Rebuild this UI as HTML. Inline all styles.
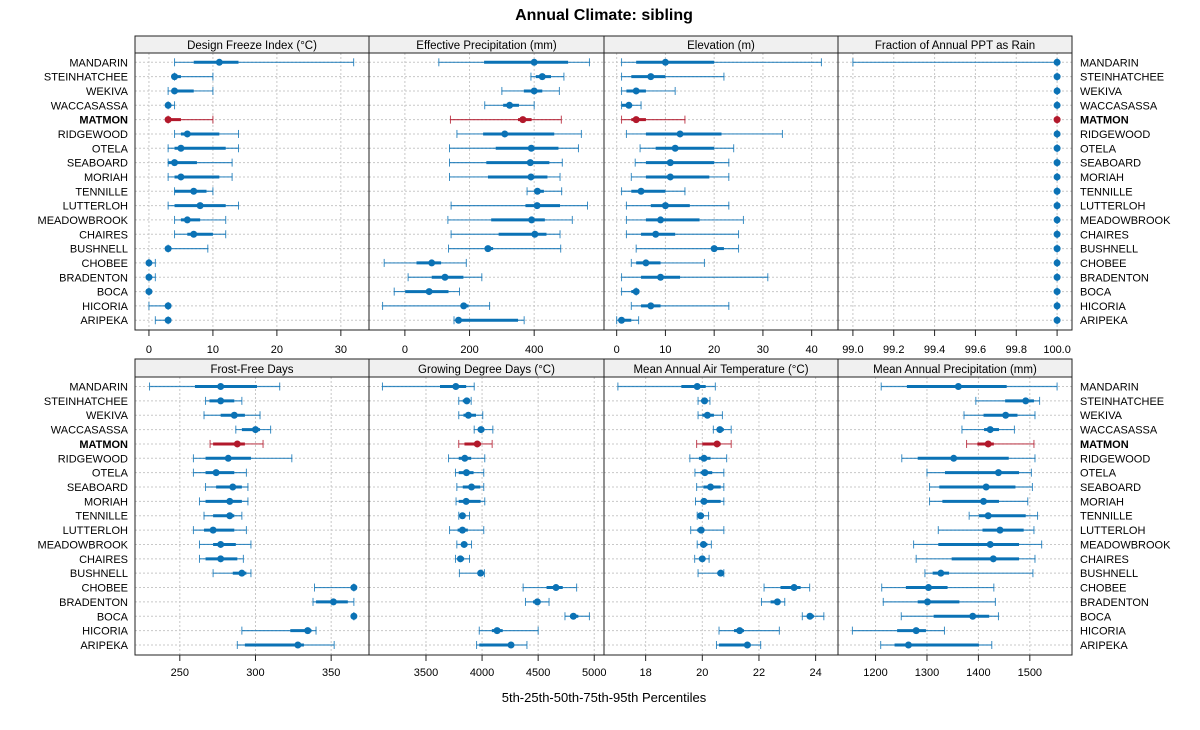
<!DOCTYPE html>
<html><head><meta charset="utf-8">
<style>
body{margin:0;background:#fff;font-family:"Liberation Sans",sans-serif;}
svg text{font-family:"Liberation Sans",sans-serif;}
</style></head>
<body>
<svg id="chart" width="1200" height="725" viewBox="0 0 1200 725" xmlns="http://www.w3.org/2000/svg">
<text x="604" y="20" text-anchor="middle" font-size="16" font-weight="bold">Annual Climate: sibling</text>
<text x="604" y="702" text-anchor="middle" font-size="13">5th-25th-50th-75th-95th Percentiles</text>
</svg>
<script>
const sites = ["MANDARIN","STEINHATCHEE","WEKIVA","WACCASASSA","MATMON","RIDGEWOOD","OTELA","SEABOARD","MORIAH","TENNILLE","LUTTERLOH","MEADOWBROOK","CHAIRES","BUSHNELL","CHOBEE","BRADENTON","BOCA","HICORIA","ARIPEKA"];
const panelTitles = ["Design Freeze Index (°C)","Effective Precipitation (mm)","Elevation (m)","Fraction of Annual PPT as Rain","Frost-Free Days","Growing Degree Days (°C)","Mean Annual Air Temperature (°C)","Mean Annual Precipitation (mm)"];
const ticks = [[0,10,20,30],[0,200,400],[0,10,20,30,40],[99.0,99.2,99.4,99.6,99.8,100.0],[250,300,350],[3500,4000,4500,5000],[18,20,22,24],[1200,1300,1400,1500]];
const tickLabels = [["0","10","20","30"],["0","200","400"],["0","10","20","30","40"],["99.0","99.2","99.4","99.6","99.8","100.0"],["250","300","350"],["3500","4000","4500","5000"],["18","20","22","24"],["1200","1300","1400","1500"]];
const domains = [[-2.18,34.4],[-111,616],[-2.6,45.4],[98.927,100.073],[220.4,375],[2992,5087],[16.53,24.79],[1127,1582]];
// each row: [p5,p25,p50,p75,p95]
const dfi = [[4,7,11,14,32],[4,4,4,5,10],[3,4,4,7,10],[3,3,3,3,4],[3,3,3,5,10],[4,5,6,11,14],[3,4,5,12,14],[3,3,4,7.5,13],[3,4,5,11,13],[4,4,7,9,10],[3,4,8,12,14],[4,5,6,8,12],[4,6,7,10,12],[3,3,3,3,9.2],[0,0,0,0,1],[0,0,0,0,1],[0,0,0,0,0],[0,3,3,3,3],[1,3,3,3,3]];
const effPpt = [[105,245,400,505,571],[390,405,425,452,492],[300,368,400,425,478],[247,304,324,353,400],[141,350,365,392,484],[161,242,309,462,546],[138,281,391,475,537],[138,252,388,447,487],[138,257,390,441,480],[378,402,410,430,485],[143,373,409,480,565],[133,267,392,433,518],[143,290,402,438,480],[135,247,257,273,482],[-64,36,83,112,190],[10,83,124,181,238],[-33,1,75,135,169],[-69,174,182,197,262],[152,160,166,350,369]];
const elev = [[1,4,10,20,42],[1,3,7,10,22],[1,2,4,6,12],[1,1,2.5,3,5],[1,3,4,6,14],[2,6,13,21.5,34],[4.8,8,12,20,24],[3.8,6,11,20,23],[3,6,11,19,23],[1,3,5,10,14],[2,7,10,15,23],[2,6,9,17,26],[2,5,8,12,25],[4,19.5,20,22,25],[3,4,6,9,18],[1,5,9,13,31],[1,3,4,4,4],[3,5,7,9,23],[0,0.5,1,3,4.5]];
const rainFrac = [[99.0,100,100,100,100],[100,100,100,100,100],[100,100,100,100,100],[100,100,100,100,100],[100,100,100,100,100],[100,100,100,100,100],[100,100,100,100,100],[100,100,100,100,100],[100,100,100,100,100],[100,100,100,100,100],[100,100,100,100,100],[100,100,100,100,100],[100,100,100,100,100],[100,100,100,100,100],[100,100,100,100,100],[100,100,100,100,100],[100,100,100,100,100],[100,100,100,100,100],[100,100,100,100,100]];
const ffd = [[230,260,277,301,316],[267,269.6,277,286,291],[266,277,286,293,303],[287,291,300,303,310],[270,272,288,293,305],[259,267,282,297,324],[259,267,274,286,294],[267,274,285,291,295],[263,267,283,291,295],[266,272,283,286,291],[259,266,272,286,294],[263,272,277,287,297],[263,267,277,288,292],[272,285,291,294,297],[339,365,365,365,365],[338,340,351.5,361,365],[365,365,365,365,365],[291,323,334.5,337,340],[288,293,328,332,352]];
const gdd = [[3112,3625,3766,3858,3930],[3792,3828,3864,3882,3903],[3792,3834,3878,3946,4006],[3930,3963,3991,4021,4096],[3792,3843,3957,3991,4090],[3701,3792,3846,3903,4024],[3763,3792,3861,3924,4015],[3775,3828,3906,3984,4015],[3768,3792,3858,3987,4024],[3792,3804,3825,3852,3888],[3710,3782,3825,3873,4015],[3775,3815,3840,3870,3906],[3763,3782,3807,3840,3888],[3798,3963,3987,4006,4021],[4366,4575,4659,4719,4843],[4387,4454,4493,4520,4597],[4739,4784,4814,4858,4957],[3975,4087,4134,4184,4500],[3951,3975,4258,4258,4400]];
const maat = [[17.02,19.26,19.82,20.12,20.46],[19.85,19.96,20.08,20.18,20.27],[19.85,20.0,20.18,20.41,20.71],[20.39,20.53,20.62,20.76,21.02],[19.8,20.0,20.52,20.65,21.02],[19.56,19.88,20.06,20.29,20.86],[19.74,19.94,20.09,20.35,20.76],[19.8,20.04,20.29,20.65,20.76],[19.76,19.94,20.06,20.65,20.76],[19.82,19.86,19.94,20.06,20.22],[19.59,19.82,19.96,20.06,20.76],[19.82,19.94,20.04,20.18,20.32],[19.73,19.88,20.0,20.08,20.24],[19.85,20.53,20.65,20.71,20.76],[22.18,22.76,23.24,23.47,23.79],[22.09,22.41,22.65,22.74,22.91],[23.53,23.71,23.8,23.94,24.29],[20.59,21.12,21.32,21.47,22.72],[20.5,20.59,21.59,21.71,22.06]];
const map = [[1211,1261,1361,1455,1553],[1395,1452,1492,1508,1519],[1372,1410,1453,1476,1510],[1368,1411,1423,1440,1470],[1377,1398,1419,1430,1508],[1251,1282,1352,1459,1510],[1300,1335,1439,1479,1503],[1305,1324,1415,1472,1505],[1305,1330,1410,1440,1496],[1382,1401,1419,1492,1515],[1322,1408,1442,1488,1508],[1274,1322,1423,1479,1523],[1279,1348,1429,1479,1510],[1296,1311,1327,1343,1506],[1212,1259,1303,1340,1430],[1215,1282,1301,1363,1433],[1250,1313,1389,1421,1439],[1155,1242,1279,1298,1334],[1210,1237,1264,1401,1426]];
const series = [dfi,effPpt,elev,rainFrac,ffd,gdd,maat,map];

const NS="http://www.w3.org/2000/svg";
const svg=document.getElementById('chart');
function mk(tag,attrs,parent){const e=document.createElementNS(NS,tag);for(const k in attrs)e.setAttribute(k,attrs[k]);(parent||svg).appendChild(e);return e;}
const colX=[135,369,604,838,1072];
const rows=[{stripTop:36,plotTop:53,plotBot:330,y0:62.3,dy:14.33,lab:353},{stripTop:359,plotTop:377,plotBot:655,y0:386.5,dy:14.36,lab:676}];
const BLUE="#0b72b5",RED="#b2182b";
for(let p=0;p<8;p++){
  const r=rows[Math.floor(p/4)],c=p%4,x0=colX[c],x1=colX[c+1];
  const dom=domains[p];
  const sx=v=>x0+(v-dom[0])/(dom[1]-dom[0])*(x1-x0);
  const sy=i=>r.y0+i*r.dy;
  const g=mk('g',{});
  
  
  const strip=mk('rect',{x:x0,y:r.stripTop,width:x1-x0,height:r.plotTop-r.stripTop,fill:'#f0f0f0',stroke:'#222','stroke-width':1},g);
  
  
  const st=mk('text',{x:(x0+x1)/2,y:r.plotTop-4,'text-anchor':'middle','font-size':11.5},g);
  st.textContent=panelTitles[p];
  
  
  ticks[p].forEach((t,k)=>{
    const x=sx(t);
    const gl=mk('line',{x1:x,x2:x,y1:r.plotTop,y2:r.plotBot,stroke:'#c8c8c8','stroke-dasharray':'2,2','stroke-width':1},g);
    
    
    const tk=mk('line',{x1:x,x2:x,y1:r.plotBot,y2:r.plotBot+6,stroke:'#222'},g);
    
    
    const tl=mk('text',{x:x,y:r.lab,'text-anchor':'middle','font-size':11},g);
    tl.textContent=tickLabels[p][k];
    
    
  });
  sites.forEach((s,i)=>{
    const y=sy(i);
    const hl=mk('line',{x1:x0,x2:x1,y1:y,y2:y,stroke:'#c8c8c8','stroke-dasharray':'2,2'},g);
    
    
  });
  sites.forEach((s,i)=>{
    const y=sy(i),d=series[p][i],col=s==="MATMON"?RED:BLUE;
    const bg=mk('g',{},g);
    
    
    mk('line',{x1:sx(d[0]),x2:sx(d[4]),y1:y,y2:y,stroke:col,'stroke-width':1.2,'stroke-opacity':0.8},bg);
    mk('line',{x1:sx(d[0]),x2:sx(d[0]),y1:y-4,y2:y+4,stroke:col,'stroke-width':1,'stroke-opacity':0.8},bg);
    mk('line',{x1:sx(d[4]),x2:sx(d[4]),y1:y-4,y2:y+4,stroke:col,'stroke-width':1,'stroke-opacity':0.8},bg);
    mk('line',{x1:sx(d[1]),x2:sx(d[3]),y1:y,y2:y,stroke:col,'stroke-width':3},bg);
    mk('circle',{cx:sx(d[2]),cy:y,r:3.5,fill:col},bg);
  });
  const fr=mk('rect',{x:x0,y:r.plotTop,width:x1-x0,height:r.plotBot-r.plotTop,fill:'none',stroke:'#222','stroke-width':1},g);
  
  
  if(c===0||c===3){
    sites.forEach((s,i)=>{
      const t=mk('text',{x:c===0?128:1080,y:sy(i)+4,'text-anchor':c===0?'end':'start','font-size':11,'font-weight':s==="MATMON"?'bold':'normal'},g);
      t.textContent=s;
      
      
    });
  }
}
</script>
</body></html>
